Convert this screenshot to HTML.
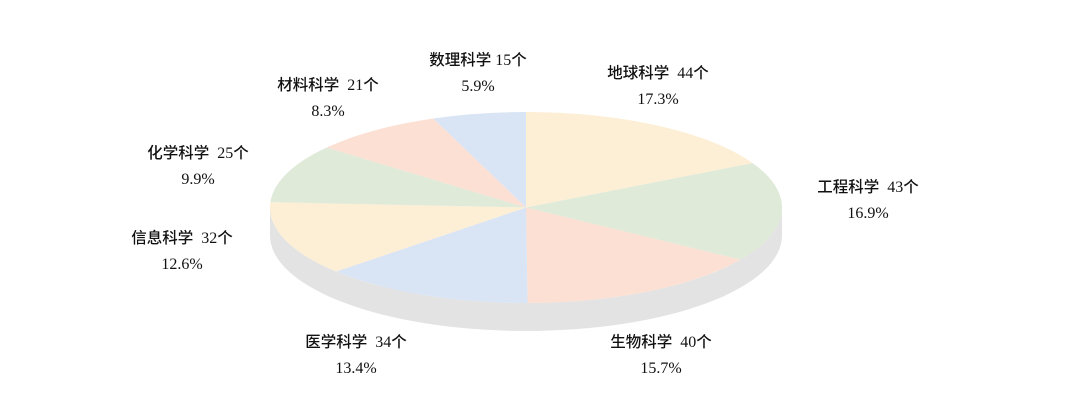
<!DOCTYPE html>
<html><head><meta charset="utf-8"><style>
body{margin:0;background:#fff;width:1080px;height:417px;overflow:hidden;position:relative}
.l{position:absolute;transform:translate(-50%,-50%);font-family:"Liberation Serif","Noto Serif CJK SC",serif;font-size:16px;color:#111;white-space:nowrap;text-align:center;line-height:26px}
.l b{font-family:"Noto Sans CJK SC",sans-serif;font-weight:500;font-size:15.5px}
svg{position:absolute;left:0;top:0}
</style></head><body>
<svg id="s" width="1080" height="417"></svg>
<div class="l" style="left:478px;top:73px"><b>数理科学</b> 15<b>个</b><br>5.9%</div>
<div class="l" style="left:658px;top:86px"><b>地球科学</b>&nbsp; 44<b>个</b><br>17.3%</div>
<div class="l" style="left:328px;top:98px"><b>材料科学</b>&nbsp; 21<b>个</b><br>8.3%</div>
<div class="l" style="left:198px;top:166px"><b>化学科学</b>&nbsp; 25<b>个</b><br>9.9%</div>
<div class="l" style="left:868px;top:200px"><b>工程科学</b>&nbsp; 43<b>个</b><br>16.9%</div>
<div class="l" style="left:182px;top:251px"><b>信息科学</b>&nbsp; 32<b>个</b><br>12.6%</div>
<div class="l" style="left:356px;top:355px"><b>医学科学</b>&nbsp; 34<b>个</b><br>13.4%</div>
<div class="l" style="left:661px;top:355px"><b>生物科学</b>&nbsp; 40<b>个</b><br>15.7%</div>
<script>
var cx=526,cy=207.5,rx=256,ry=95.5,d=28;
var v=[17.3,16.9,15.7,13.4,12.6,9.9,8.3,5.9];
var c=["#fdeed6","#dfead8","#fce0d4","#d9e4f4","#fdeed6","#dfead8","#fce0d4","#d9e4f4"];
var h='<path d="M'+(cx-rx)+' '+cy+' A'+rx+' '+ry+' 0 0 0 '+(cx+rx)+' '+cy+' L'+(cx+rx)+' '+(cy+d)+' A'+rx+' '+ry+' 0 0 1 '+(cx-rx)+' '+(cy+d)+' Z" fill="#e3e3e3"/>';
var a=0,tot=v.reduce(function(p,q){return p+q},0);
function pt(t){return [cx+rx*Math.sin(t),cy-ry*Math.cos(t)]}
for(var i=0;i<v.length;i++){var a2=a+v[i]/tot*2*Math.PI;var p1=pt(a),p2=pt(a2);
h+='<path d="M'+cx+' '+cy+' L'+p1[0]+' '+p1[1]+' A'+rx+' '+ry+' 0 '+(a2-a>Math.PI?1:0)+' 1 '+p2[0]+' '+p2[1]+' Z" fill="'+c[i]+'"/>';a=a2;}
document.getElementById('s').innerHTML=h;
</script>
</body></html>
